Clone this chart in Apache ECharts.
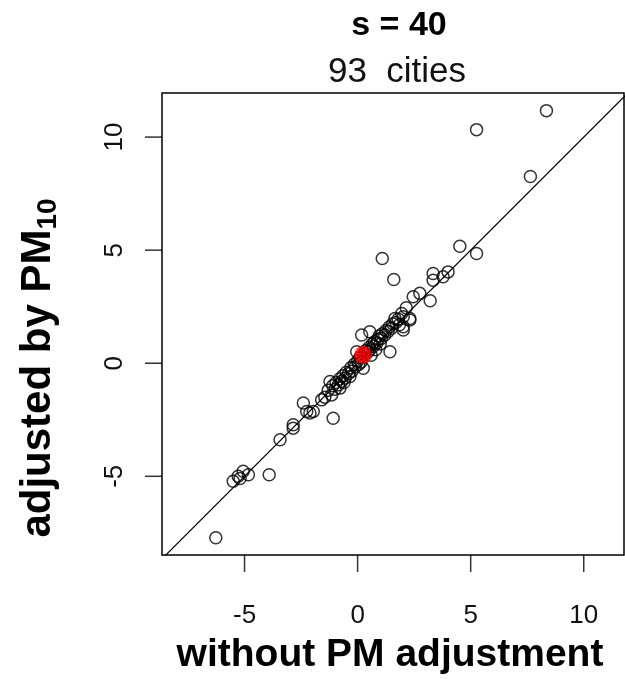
<!DOCTYPE html>
<html>
<head>
<meta charset="utf-8">
<title>s = 40</title>
<script src="https://cdn.jsdelivr.net/npm/echarts@6/dist/echarts.min.js"></script>
<style>
  html, body { margin: 0; padding: 0; background: #ffffff; }
  #chart { width: 625px; height: 679px; }
</style>
</head>
<body>
<div id="chart"></div>
<script>
// City-level estimates: without PM adjustment (x) vs. adjusted by PM10 (y)
const withoutPM = [
  8.35, 5.26, 7.64, 4.52, 5.26, 1.09, 1.60, 3.34, 4.00, 3.34,
  3.78, 3.21, 2.46, 2.75, 2.31, 2.02, 1.65, 2.02, 2.31, 2.02,
  1.43, 0.18, 0.54, -0.04, 0.25, -1.22, -1.15, -0.78, -0.34, -2.40,
  -1.96, -2.25, -1.59, -1.08, -2.85, -3.43, -5.06, -5.50, -4.83, -5.28,
  -3.91, -6.27, -2.85, -5.20, -2.11,
  -1.45, -1.30, -1.10, -1.00, -0.95, -0.85, -0.80, -0.70, -0.65, -0.55,
  -0.50, -0.40, -0.30, -0.25, -0.15, -0.10, 0.00, 0.05, 0.10, 0.15,
  0.30, 0.35, 0.45, 0.50, 0.55, 0.65, 0.70, 0.75, 0.85, 0.90,
  0.95, 1.05, 1.10, 1.20, 1.25, 1.35, 1.40, 1.50, 1.55, 1.70,
  1.80, 1.85, 0.60, 0.80, 1.00, -0.60, 1.95, 2.15
];
const adjustedPM10 = [
  11.17, 10.33, 8.26, 5.17, 4.85, 4.63, 3.70, 3.97, 4.04, 3.67,
  3.82, 2.76, 2.94, 3.09, 1.98, 1.61, 1.98, 2.06, 1.91, 1.47,
  0.51, 1.25, 1.39, 0.51, -0.22, -0.81, -1.40, -1.10, -0.59, -1.76,
  -2.13, -2.13, -1.62, -2.43, -2.87, -3.38, -4.78, -5.22, -4.93, -5.00,
  -4.93, -7.72, -2.72, -5.10, -2.20,
  -1.50, -1.20, -1.00, -1.15, -0.85, -0.95, -0.70, -0.80, -0.55, -0.65,
  -0.40, -0.45, -0.20, -0.35, -0.05, -0.15, 0.10, -0.05, 0.25, 0.05,
  0.40, 0.55, 0.50, 0.70, 0.60, 0.85, 0.75, 0.95, 0.90, 1.05,
  1.20, 1.10, 1.30, 1.25, 1.45, 1.40, 1.60, 1.55, 1.75, 1.80,
  1.95, 1.70, 0.35, 0.60, 0.85, -0.85, 2.20, 2.45
];
// Pooled estimate across cities
const pooledX = [0.25];
const pooledY = [0.37];

const xTicks = [-5, 0, 5, 10];
const yTicks = [-5, 0, 5, 10];
const xRange = [-8.65, 11.78];
const yRange = [-8.48, 11.95];
const identityLine = [-20, 20];

const titleText = 's = 40';
const subtitleText = '93  cities';
const xTitle = 'without PM adjustment';
const yTitleMain = 'adjusted by PM';
const yTitleSub = '10';

const cityPoints = withoutPM.map((x, i) => [x, adjustedPM10[i]]);
const pooledPoints = pooledX.map((x, i) => [x, pooledY[i]]);
const linePoints = identityLine.map(v => [v, v]);

// Outward tick marks, anchored on the frame's bottom and left edges
const xTickMarks = xTicks.map(v => [v, yRange[0]]);
const yTickMarks = yTicks.map(v => [xRange[0], v]);
const TICK_LEN = 17;
const TICK_W = 1.5;

const FONT = '"Liberation Sans", Arial, sans-serif';

const chart = echarts.init(document.getElementById('chart'), null, { renderer: 'canvas' });

chart.setOption({
  backgroundColor: '#ffffff',
  animation: false,
  title: [
    {
      text: titleText,
      left: 394, top: 4, textAlign: 'center',
      textStyle: { fontFamily: FONT, fontSize: 34, fontWeight: 'bold', color: '#000' }
    },
    {
      text: subtitleText,
      left: 392, top: 50, textAlign: 'center',
      textStyle: { fontFamily: FONT, fontSize: 35, fontWeight: 'normal', color: '#111' }
    }
  ],
  grid: {
    left: 162, top: 93, width: 462, height: 462,
    show: true, borderColor: '#000', borderWidth: 1.5
  },
  xAxis: {
    type: 'value', min: xRange[0], max: xRange[1],
    axisLine: { show: false, onZero: false },
    splitLine: { show: false },
    axisTick: { show: false },
    axisLabel: {
      customValues: xTicks, margin: 48,
      fontFamily: FONT, fontSize: 26, color: '#111'
    }
  },
  yAxis: {
    type: 'value', min: yRange[0], max: yRange[1],
    axisLine: { show: false, onZero: false },
    splitLine: { show: false },
    axisTick: { show: false },
    axisLabel: {
      customValues: yTicks, margin: 34, rotate: 90,
      fontFamily: FONT, fontSize: 26, color: '#111'
    }
  },
  graphic: [
    {
      type: 'text', x: 390, y: 655,
      style: {
        text: xTitle, textAlign: 'center', textVerticalAlign: 'middle',
        fontFamily: FONT, fontSize: 39, fontWeight: 'bold', fill: '#000'
      }
    },
    {
      type: 'text', x: 38, y: 368, rotation: Math.PI / 2,
      style: {
        text: '{m|' + yTitleMain + '}{s|' + yTitleSub + '}',
        textAlign: 'center', textVerticalAlign: 'middle',
        rich: {
          m: { fontFamily: FONT, fontSize: 42, fontWeight: 'bold', fill: '#000', lineHeight: 46 },
          s: { fontFamily: FONT, fontSize: 28, fontWeight: 'bold', fill: '#000', padding: [20, 0, 0, 0], lineHeight: 46 }
        }
      }
    }
  ],
  series: [
    {
      type: 'line', data: linePoints, clip: true, symbol: 'none',
      lineStyle: { color: '#000', width: 1.2 }, z: 1, silent: true
    },
    {
      type: 'scatter', data: cityPoints, symbol: 'circle', symbolSize: 12,
      itemStyle: { color: 'rgba(0,0,0,0)', borderColor: '#000', borderWidth: 1.5 }, z: 2
    },
    {
      type: 'scatter', data: pooledPoints, symbol: 'circle', symbolSize: 18,
      itemStyle: { color: '#ff0000', borderWidth: 0 }, z: 3
    },
    {
      // x-axis ticks hanging below the frame
      type: 'scatter', data: xTickMarks, clip: false, silent: true,
      symbol: 'rect', symbolSize: [TICK_W, TICK_LEN], symbolOffset: [0, TICK_LEN / 2],
      itemStyle: { color: '#000', borderWidth: 0 }, z: 4
    },
    {
      // y-axis ticks extending left of the frame
      type: 'scatter', data: yTickMarks, clip: false, silent: true,
      symbol: 'rect', symbolSize: [TICK_LEN, TICK_W], symbolOffset: [-TICK_LEN / 2, 0],
      itemStyle: { color: '#000', borderWidth: 0 }, z: 4
    }
  ]
});
</script>
</body>
</html>
